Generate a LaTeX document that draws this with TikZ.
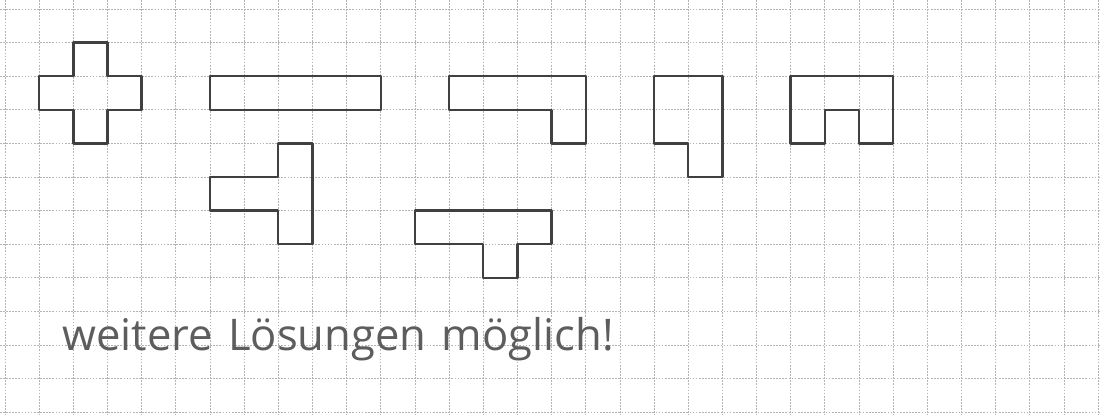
\documentclass[tikz,border=0pt]{standalone}
\usepackage{fontspec}
\usepackage{tikz}
\newfontfamily\handfont{Open Sans}
\definecolor{pencil}{HTML}{404040}
\definecolor{gridgray}{HTML}{B4B4B4}

\begin{document}
\begin{tikzpicture}[
    x=0.854cm, y={(0,-0.84cm)},
    raster/.style={gridgray, line width=0.5pt, dash pattern=on 1.2pt off 1pt},
    piece/.style={pencil, line width=1.7pt, line join=round},
    note/.style={pencil!85, font=\handfont\fontsize{31}{32}\selectfont, inner sep=0pt}
]
    % paper and squares
    \fill[white] (-0.146,-0.268) rectangle (32.055,12.08);
    \useasboundingbox (-0.146,-0.268) rectangle (32.055,12.08);
    \foreach \c in {0,...,32} \draw[raster] (\c,-0.27) -- (\c,12.08);
    \foreach \r in {0,...,12} \draw[raster] (-0.15,\r) -- (32.06,\r);

    % the pieces
    \draw[piece] (2,1) -- (3,1) -- (3,2) -- (4,2) -- (4,3) -- (3,3) -- (3,4) -- (2,4) -- (2,3) -- (1,3) -- (1,2) -- (2,2) -- cycle;
    \draw[piece] (6,2) rectangle (11,3);
    \draw[piece] (8,4) -- (9,4) -- (9,7) -- (8,7) -- (8,6) -- (6,6) -- (6,5) -- (8,5) -- cycle;
    \draw[piece] (13,2) -- (17,2) -- (17,4) -- (16,4) -- (16,3) -- (13,3) -- cycle;
    \draw[piece] (12,6) -- (16,6) -- (16,7) -- (15,7) -- (15,8) -- (14,8) -- (14,7) -- (12,7) -- cycle;
    \draw[piece] (19,2) -- (21,2) -- (21,5) -- (20,5) -- (20,4) -- (19,4) -- cycle;
    \draw[piece] (23,2) -- (26,2) -- (26,4) -- (25,4) -- (25,3) -- (24,3) -- (24,4) -- (23,4) -- cycle;

    \node[note, anchor=base west] (hint) at (1.67,10.15) {weitere\hspace{0.35em}Lösungen\hspace{0.35em}möglich!};
\end{tikzpicture}
\end{document}
